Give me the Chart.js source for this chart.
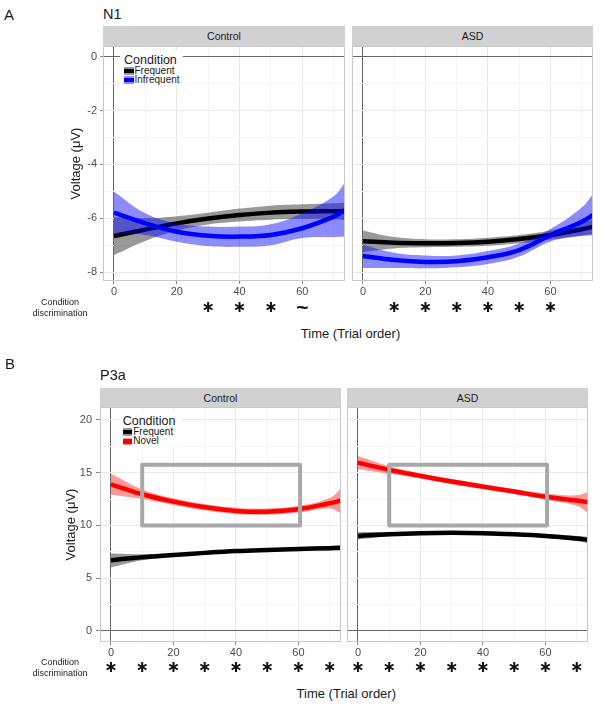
<!DOCTYPE html>
<html><head><meta charset="utf-8">
<script src="https://cdn.jsdelivr.net/npm/chart.js@4.4.1/dist/chart.umd.min.js"></script>
<style>
html,body{margin:0;padding:0;background:#fff;}
#fig{position:relative;width:604px;height:706px;overflow:hidden;background:#fff;font-family:'Liberation Sans',Arial,sans-serif;color:#1a1a1a;}
canvas{position:absolute;}
.t{position:absolute;white-space:nowrap;line-height:1;transform:translateY(-50%);}
.c{position:absolute;white-space:nowrap;line-height:1;transform:translate(-50%,-50%);text-align:center;}
.strip{position:absolute;background:#d1d1d1;color:#1a1a1a;font-size:10.5px;display:flex;align-items:center;justify-content:center;}
.leg{position:absolute;background:#fff;}
.key{position:absolute;width:9.5px;height:7.5px;display:flex;align-items:center;}
.key i{display:block;width:100%;height:4.5px;}
.cd{position:absolute;font-size:9px;line-height:11px;text-align:center;transform:translate(-50%,0);color:#222;white-space:nowrap;}
</style>
</head><body>
<div id="fig">
  <div class="t" style="left:4px;top:13.5px;font-size:15px;">A</div>
  <div class="t" style="left:103px;top:13.5px;font-size:14.5px;">N1</div>
  <div class="strip" style="left:103px;top:26px;width:242px;height:20px;">Control</div>
  <div class="strip" style="left:352px;top:26px;width:241px;height:20px;">ASD</div>
  <canvas id="aControl" width="280" height="275" style="left:65px;top:46px;"></canvas>
  <canvas id="aASD" width="241" height="275" style="left:352px;top:46px;"></canvas>
  <div class="leg" style="left:120px;top:51px;width:63px;height:35px;">
    <div class="t" style="left:4px;top:9px;font-size:12.5px;">Condition</div>
    <div class="key" style="left:4px;top:16px;background:rgba(0,0,0,0.4);"><i style="background:#000"></i></div>
    <div class="t" style="left:14.5px;top:19.7px;font-size:10px;">Frequent</div>
    <div class="key" style="left:4px;top:25.3px;background:rgba(0,0,255,0.45);"><i style="background:#0000ff"></i></div>
    <div class="t" style="left:14.5px;top:29px;font-size:10px;">Infrequent</div>
  </div>
  <div class="cd" style="left:60px;top:296.5px;">Condition<br>discrimination</div>
  <div class="c" style="left:350.5px;top:332.7px;font-size:13px;">Time (Trial order)</div>

  <div class="t" style="left:5px;top:363px;font-size:15px;">B</div>
  <div class="t" style="left:100px;top:375px;font-size:14.5px;">P3a</div>
  <div class="strip" style="left:100px;top:388px;width:241px;height:19px;">Control</div>
  <div class="strip" style="left:347px;top:388px;width:241px;height:19px;">ASD</div>
  <canvas id="bControl" width="281" height="275" style="left:60px;top:407px;"></canvas>
  <canvas id="bASD" width="241" height="275" style="left:347px;top:407px;"></canvas>
  <div class="leg" style="left:118px;top:412px;width:63px;height:35px;">
    <div class="t" style="left:4.7px;top:9px;font-size:12.5px;">Condition</div>
    <div class="key" style="left:4.7px;top:16.3px;background:rgba(0,0,0,0.4);"><i style="background:#000"></i></div>
    <div class="t" style="left:15.2px;top:20.3px;font-size:10px;">Frequent</div>
    <div class="key" style="left:4.7px;top:25.5px;background:rgba(255,0,0,0.4);"><i style="background:#ff0000"></i></div>
    <div class="t" style="left:15.2px;top:29px;font-size:10px;">Novel</div>
  </div>
  <div class="cd" style="left:60px;top:657px;">Condition<br>discrimination</div>
  <div class="c" style="left:346.3px;top:693.3px;font-size:13px;">Time (Trial order)</div>
</div>
<script>
// ---------- data ----------
const trial = [0, 10, 20, 30, 40, 50, 60, 70, 73.6];
const xTickLabels = [0, 20, 40, 60];
const xMinorTicks = [10, 30, 50, 70];

// N1 (panel A)
const n1YTicks = [0, -2, -4, -6, -8];
const n1YMinor = [-1, -3, -5, -7];
const n1ControlFrequent   = [-6.66, -6.42, -6.19, -6.01, -5.88, -5.79, -5.75, -5.74, -5.74];
const n1ControlFrequentHi = [-5.96, -6.00, -5.92, -5.79, -5.64, -5.53, -5.48, -5.44, -5.41];
const n1ControlFrequentLo = [-7.36, -6.84, -6.46, -6.23, -6.12, -6.05, -6.02, -6.04, -6.07];
const n1ControlInfrequent   = [-5.79, -6.19, -6.50, -6.65, -6.68, -6.62, -6.37, -5.94, -5.69];
const n1ControlInfrequentHi = [-5.01, -5.81, -6.19, -6.31, -6.31, -6.22, -5.81, -5.18, -4.67];
const n1ControlInfrequentLo = [-6.55, -6.62, -6.87, -7.03, -7.06, -7.00, -6.73, -6.70, -6.68];
const n1ASDFrequent   = [-6.85, -6.91, -6.93, -6.92, -6.87, -6.77, -6.62, -6.41, -6.31];
const n1ASDFrequentHi = [-6.45, -6.70, -6.78, -6.78, -6.72, -6.62, -6.45, -6.18, -6.04];
const n1ASDFrequentLo = [-7.25, -7.12, -7.08, -7.06, -7.02, -6.93, -6.79, -6.64, -6.58];
const n1ASDInfrequent   = [-7.40, -7.55, -7.62, -7.60, -7.45, -7.18, -6.63, -6.13, -5.88];
const n1ASDInfrequentHi = [-6.98, -7.28, -7.38, -7.38, -7.22, -6.94, -6.40, -5.60, -5.10];
const n1ASDInfrequentLo = [-7.85, -7.85, -7.86, -7.82, -7.70, -7.42, -6.86, -6.66, -6.64];
const n1ControlStars = [30, 40, 50];
const n1ControlTilde = [60];
const n1ASDStars = [10, 20, 30, 40, 50, 60];

// P3a (panel B)
const p3aYTicks = [0, 5, 10, 15, 20];
const p3aYMinor = [2.5, 7.5, 12.5, 17.5];
const p3aControlFrequent   = [6.70, 6.99, 7.20, 7.40, 7.57, 7.68, 7.77, 7.85, 7.88];
const p3aControlFrequentHi = [7.35, 7.28, 7.36, 7.54, 7.71, 7.82, 7.92, 8.05, 8.12];
const p3aControlFrequentLo = [6.02, 6.70, 7.04, 7.26, 7.43, 7.54, 7.62, 7.65, 7.64];
const p3aControlNovel   = [13.90, 12.96, 12.26, 11.73, 11.38, 11.31, 11.54, 12.10, 12.36];
const p3aControlNovelHi = [14.90, 13.42, 12.58, 12.03, 11.68, 11.61, 11.86, 12.60, 13.55];
const p3aControlNovelLo = [12.90, 12.50, 11.94, 11.43, 11.08, 11.01, 11.22, 11.60, 11.15];
const p3aASDFrequent   = [9.01, 9.17, 9.27, 9.30, 9.27, 9.17, 9.01, 8.76, 8.63];
const p3aASDFrequentHi = [9.36, 9.37, 9.42, 9.45, 9.42, 9.32, 9.18, 9.00, 8.93];
const p3aASDFrequentLo = [8.66, 8.97, 9.12, 9.15, 9.12, 9.02, 8.84, 8.52, 8.33];
const p3aASDNovel   = [15.96, 15.27, 14.70, 14.16, 13.68, 13.21, 12.73, 12.36, 12.20];
const p3aASDNovelHi = [16.58, 15.62, 14.95, 14.41, 13.93, 13.46, 13.03, 12.86, 13.20];
const p3aASDNovelLo = [15.34, 14.92, 14.45, 13.91, 13.43, 12.96, 12.43, 11.86, 11.16];
const p3aControlStars = [0, 10, 20, 30, 40, 50, 60, 70];
const p3aASDStars = [0, 10, 20, 30, 40, 50, 60, 70];
const windowX = [10, 60.5];
const windowY = [10, 15.75];

// ---------- drawing ----------
Chart.defaults.font.family = "'Liberation Sans', Arial, sans-serif";

function makeFacet(id, g) {
  const pts = arr => trial.map((x, i) => ({x: x, y: arr[i]}));
  const sets = [];
  g.series.forEach(s => {
    sets.push({label: s.name, data: pts(s.mid), borderColor: s.color, borderWidth: 4.5, fill: false,
      pointRadius: 0, tension: 0.4, clip: 0});
    sets.push({label: s.name + ' upper', data: pts(s.hi), borderColor: 'rgba(0,0,0,0)', borderWidth: 1,
      backgroundColor: s.band, fill: '+1', pointRadius: 0, tension: 0.4, clip: 0});
    sets.push({label: s.name + ' lower', data: pts(s.lo), borderColor: 'rgba(0,0,0,0)', borderWidth: 1,
      fill: false, pointRadius: 0, tension: 0.4, clip: 0});
  });
  const zero = (sc) => { sc.paddingLeft = 0; sc.paddingRight = 0; sc.paddingTop = 0; sc.paddingBottom = 0; };
  const deco = {
    id: 'deco',
    afterDatasetsDraw(chart) {
      if (!g.box) return;
      const xs = chart.scales.x, ys = chart.scales.y, c = chart.ctx;
      const x0 = xs.getPixelForValue(g.box.x[0]), x1 = xs.getPixelForValue(g.box.x[1]);
      const y0 = ys.getPixelForValue(g.box.y[1]), y1 = ys.getPixelForValue(g.box.y[0]);
      c.save(); c.strokeStyle = '#a8a8a8'; c.lineWidth = 4; c.lineJoin = 'round';
      c.strokeRect(x0, y0, x1 - x0, y1 - y0); c.restore();
    },
    afterDraw(chart) {
      const a = chart.chartArea, c = chart.ctx, xs = chart.scales.x;
      c.save();
      c.strokeStyle = '#c8c8c8'; c.lineWidth = 1;
      c.strokeRect(a.left + 0.5, a.top + 0.5, a.right - a.left - 1, a.bottom - a.top - 1);
      const sy = a.bottom + g.starOffset;
      c.strokeStyle = '#111'; c.lineWidth = 2;
      g.stars.forEach(v => {
        const px = xs.getPixelForValue(v);
        for (let k = 0; k < 3; k++) {
          const ang = Math.PI / 2 + k * Math.PI / 3;
          c.beginPath();
          c.moveTo(px - 5 * Math.cos(ang), sy - 5 * Math.sin(ang));
          c.lineTo(px + 5 * Math.cos(ang), sy + 5 * Math.sin(ang));
          c.stroke();
        }
      });
      (g.tildes || []).forEach(v => {
        c.fillStyle = '#111'; c.font = "bold 21px 'Liberation Sans', Arial"; c.textAlign = 'center'; c.textBaseline = 'middle';
        c.fillText('~', xs.getPixelForValue(v), sy + 1);
      });
      c.restore();
    }
  };
  const allY = g.yMajor.concat(g.yMinor).sort((p, q) => p - q);
  const allX = xTickLabels.concat(xMinorTicks).sort((p, q) => p - q);
  return new Chart(document.getElementById(id), {
    type: 'line',
    data: {datasets: sets},
    options: {
      responsive: false, animation: false, devicePixelRatio: 1,
      layout: {padding: 0},
      plugins: {legend: {display: false}, tooltip: {enabled: false}, filler: {drawTime: 'beforeDatasetDraw'}},
      scales: {
        x: {
          type: 'linear', min: -3.5, max: 73.6,
          afterBuildTicks: sc => { sc.ticks = allX.map(v => ({value: v})); },
          afterFit: sc => { sc.height = 40; zero(sc); },
          ticks: {autoSkip: false, maxRotation: 0, minRotation: 0, padding: 1, color: '#4d4d4d', font: {size: 11},
            callback: v => xTickLabels.includes(v) ? String(v) : ''},
          grid: {lineWidth: 1, tickLength: 3,
            color: ctx => (ctx.tick && ctx.tick.value === 0) ? '#666666' : (ctx.tick && xTickLabels.includes(ctx.tick.value) ? '#e9e9e9' : '#f4f4f4'),
            tickColor: ctx => (ctx.tick && xTickLabels.includes(ctx.tick.value)) ? '#8a8a8a' : 'rgba(0,0,0,0)'},
          border: {display: false}
        },
        y: {
          type: 'linear', min: g.yMin, max: g.yMax,
          afterBuildTicks: sc => { sc.ticks = allY.map(v => ({value: v})); },
          afterFit: sc => { sc.width = g.yW; zero(sc); },
          ticks: {display: g.showY, autoSkip: false, padding: g.yPad, color: '#4d4d4d', font: {size: 11},
            callback: v => g.yMajor.includes(v) ? String(v) : ''},
          title: {display: g.showY, text: 'Voltage (μV)', color: '#1a1a1a', font: {size: 13}},
          grid: {lineWidth: 1, drawTicks: g.showY, tickLength: g.yTick,
            color: ctx => (ctx.tick && ctx.tick.value === 0) ? '#666666' : (ctx.tick && g.yMajor.includes(ctx.tick.value) ? '#e9e9e9' : '#f4f4f4'),
            tickColor: ctx => (ctx.tick && g.yMajor.includes(ctx.tick.value)) ? '#8a8a8a' : 'rgba(0,0,0,0)'},
          border: {display: false}
        }
      }
    },
    plugins: [deco]
  });
}

const blueBand = 'rgba(0,0,255,0.45)', greyBand = 'rgba(0,0,0,0.4)', redBand = 'rgba(255,0,0,0.4)';

makeFacet('aControl', {
  yMin: -8.33, yMax: 0.4, yMajor: n1YTicks, yMinor: n1YMinor, yW: 38, yPad: 3, yTick: 3, showY: true, starOffset: 26,
  stars: n1ControlStars, tildes: n1ControlTilde,
  series: [
    {name: 'Infrequent', mid: n1ControlInfrequent, hi: n1ControlInfrequentHi, lo: n1ControlInfrequentLo, color: '#0000ff', band: blueBand},
    {name: 'Frequent', mid: n1ControlFrequent, hi: n1ControlFrequentHi, lo: n1ControlFrequentLo, color: '#000000', band: greyBand}
  ]
});
makeFacet('aASD', {
  yMin: -8.33, yMax: 0.4, yMajor: n1YTicks, yMinor: n1YMinor, yW: 0, yPad: 3, yTick: 3, showY: false, starOffset: 26,
  stars: n1ASDStars,
  series: [
    {name: 'Infrequent', mid: n1ASDInfrequent, hi: n1ASDInfrequentHi, lo: n1ASDInfrequentLo, color: '#0000ff', band: blueBand},
    {name: 'Frequent', mid: n1ASDFrequent, hi: n1ASDFrequentHi, lo: n1ASDFrequentLo, color: '#000000', band: greyBand}
  ]
});
makeFacet('bControl', {
  yMin: -1.05, yMax: 21.23, yMajor: p3aYTicks, yMinor: p3aYMinor, yW: 40, yPad: 4, yTick: 4, showY: true, starOffset: 25,
  stars: p3aControlStars, box: {x: windowX, y: windowY},
  series: [
    {name: 'Novel', mid: p3aControlNovel, hi: p3aControlNovelHi, lo: p3aControlNovelLo, color: '#ff0000', band: redBand},
    {name: 'Frequent', mid: p3aControlFrequent, hi: p3aControlFrequentHi, lo: p3aControlFrequentLo, color: '#000000', band: greyBand}
  ]
});
makeFacet('bASD', {
  yMin: -1.05, yMax: 21.23, yMajor: p3aYTicks, yMinor: p3aYMinor, yW: 0, yPad: 4, yTick: 4, showY: false, starOffset: 25,
  stars: p3aASDStars, box: {x: windowX, y: windowY},
  series: [
    {name: 'Novel', mid: p3aASDNovel, hi: p3aASDNovelHi, lo: p3aASDNovelLo, color: '#ff0000', band: redBand},
    {name: 'Frequent', mid: p3aASDFrequent, hi: p3aASDFrequentHi, lo: p3aASDFrequentLo, color: '#000000', band: greyBand}
  ]
});
</script>
</body></html>
